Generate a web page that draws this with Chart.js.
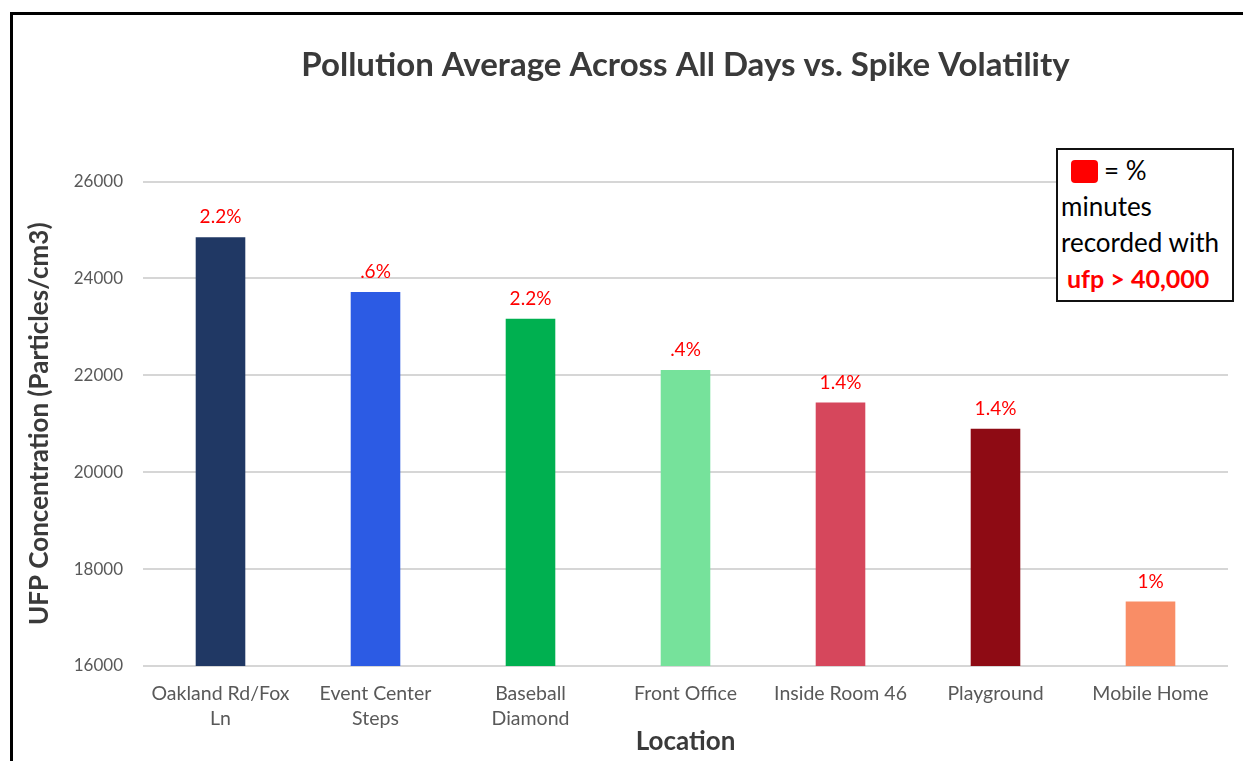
<!DOCTYPE html>
<html>
<head>
<meta charset="utf-8">
<title>Pollution Average Across All Days vs. Spike Volatility</title>
<script src="https://cdn.jsdelivr.net/npm/chart.js@4"></script>
<style>
    html, body { margin: 0; padding: 0; background: #fff; }
    body { width: 1243px; height: 761px; position: relative; overflow: hidden; font-family: Lato, "Open Sans", sans-serif; }
    #frame { position: absolute; left: 10px; top: 12px; width: 1300px; height: 800px; border-left: 3px solid #000; border-top: 3px solid #000; }
    #chart { position: absolute; left: 0; top: 0; }
    #note { position: absolute; left: 1056px; top: 148px; width: 171px; height: 148px; border: 2px solid #111; background: #fff;
            font-size: 26px; line-height: 36px; color: #000; padding: 2px 0 0 3px; white-space: nowrap; }
    #note .swatch { display: inline-block; width: 27px; height: 23px; background: #ff0000; border-radius: 4px; vertical-align: -3px; margin: 0 6px 0 10px; }
    #note .hot { color: #ff0000; font-weight: 700; font-size: 25px; padding-left: 6px; }
</style>
</head>
<body>
<div id="frame"></div>
<canvas id="chart" width="1243" height="761"></canvas>
<div id="note">
    <div><span class="swatch"></span>= %</div>
    <div>minutes</div>
    <div>recorded with</div>
    <div class="hot">ufp &gt; 40,000</div>
</div>
<script>
// --- chart data ---
const locations = [
    ['Oakland Rd/Fox', 'Ln'],
    ['Event Center', 'Steps'],
    ['Baseball', 'Diamond'],
    'Front Office',
    'Inside Room 46',
    'Playground',
    'Mobile Home'
];
const ufpAverage = [24850, 23720, 23170, 22110, 21440, 20900, 17330];
const spikeShare = ['2.2%', '.6%', '2.2%', '.4%', '1.4%', '1.4%', '1%'];
const yTicks = [16000, 18000, 20000, 22000, 24000, 26000];

const barColors = ['#203864', '#2c5be4', '#00b050', '#76e29b', '#d6475c', '#8e0b14', '#f98d66'];
const FONT = 'Lato, "Open Sans", sans-serif';

// draws the red percentage above each bar
const spikeLabels = {
    id: 'spikeLabels',
    afterDatasetsDraw(chart) {
        const ctx = chart.ctx;
        const meta = chart.getDatasetMeta(0);
        ctx.save();
        ctx.fillStyle = '#ff0000';
        ctx.font = '19px ' + FONT;
        ctx.textAlign = 'center';
        ctx.textBaseline = 'middle';
        meta.data.forEach((bar, i) => {
            ctx.fillText(spikeShare[i], bar.x, bar.y - 20);
        });
        ctx.restore();
    }
};

new Chart(document.getElementById('chart'), {
    type: 'bar',
    data: {
        labels: locations,
        datasets: [{
            data: ufpAverage,
            backgroundColor: barColors,
            borderWidth: 0,
            barPercentage: 0.32,
            categoryPercentage: 1
        }]
    },
    options: {
        responsive: false,
        animation: false,
        devicePixelRatio: 1,
        layout: { padding: { left: 0, right: 15, top: 0, bottom: 0 } },
        plugins: {
            legend: { display: false },
            tooltip: { enabled: false },
            title: {
                display: true,
                fullSize: false,
                text: 'Pollution Average Across All Days vs. Spike Volatility',
                color: '#3a3a3a',
                font: { family: FONT, size: 33, weight: 'bold', lineHeight: 1.2 },
                padding: { top: 46, bottom: 96 }
            }
        },
        scales: {
            x: {
                grid: { display: false, drawTicks: false },
                border: { display: false },
                ticks: {
                    color: '#595959',
                    font: { family: FONT, size: 19.5, lineHeight: 1.28 },
                    padding: 15,
                    maxRotation: 0,
                    autoSkip: false
                },
                title: {
                    display: true,
                    text: 'Location',
                    color: '#3a3a3a',
                    font: { family: FONT, size: 26, weight: 'bold', lineHeight: 1.2 },
                    padding: { top: 0, bottom: 4 }
                },
                afterFit(scale) { scale.height = 95; }
            },
            y: {
                min: 16000,
                max: 26000,
                afterBuildTicks(scale) { scale.ticks = yTicks.map(v => ({ value: v })); },
                grid: { color: '#d6d6d6', lineWidth: 2, drawTicks: false },
                border: { display: false },
                ticks: {
                    color: '#595959',
                    font: { family: FONT, size: 17 },
                    padding: 20,
                    callback: v => String(v)
                },
                title: {
                    display: true,
                    text: 'UFP Concentration (Particles/cm3)',
                    color: '#3a3a3a',
                    font: { family: FONT, size: 26, weight: 'bold', lineHeight: 1.2 },
                    padding: { top: 24, bottom: 0 }
                },
                afterFit(scale) { scale.width = 143; }
            }
        }
    },
    plugins: [spikeLabels]
});
</script>
</body>
</html>
